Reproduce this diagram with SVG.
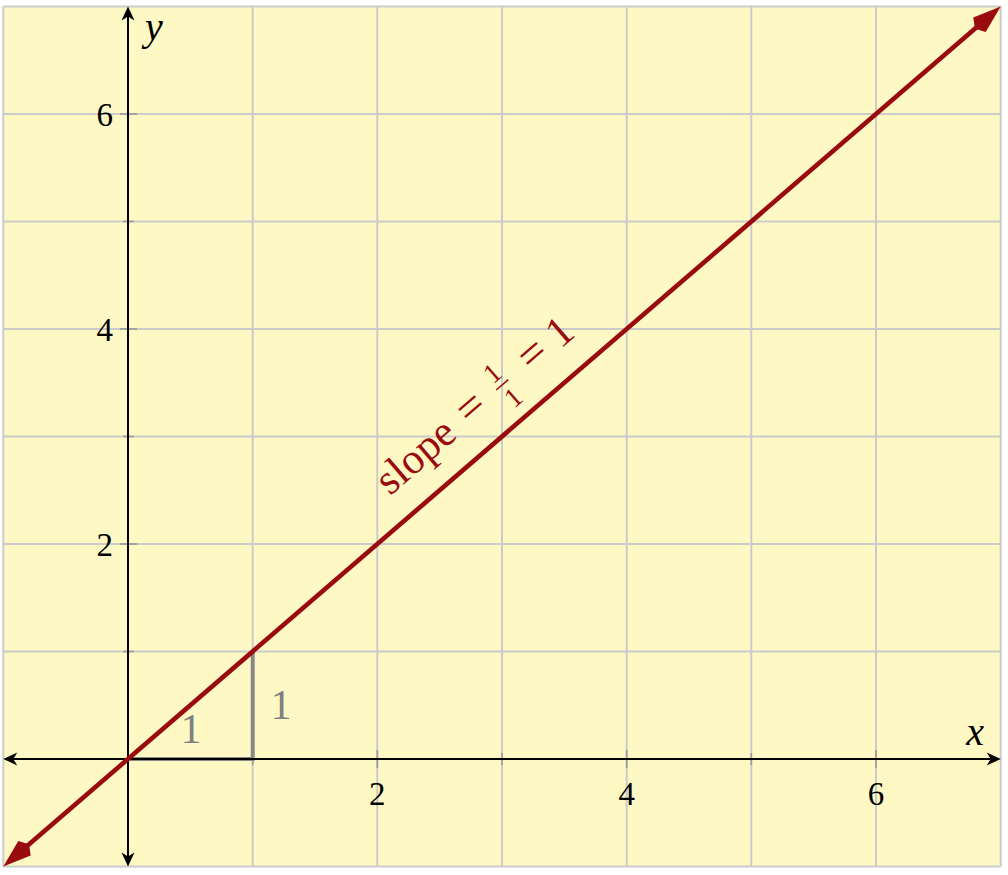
<svg xmlns="http://www.w3.org/2000/svg" width="1008" height="875" viewBox="0 0 1008 875">
<style>
.grid{stroke:#cbcbcb;stroke-width:2;fill:none}
.tick{stroke:#9a9a9a;stroke-width:1.6}
.axis{stroke:#000;stroke-width:2;fill:none}
text{font-family:'Liberation Serif','Times New Roman',Tinos,'Noto Serif','DejaVu Serif',FreeSerif,serif}
.num{font-size:33px;fill:#000}
.ital{font-style:italic;font-size:40px;fill:#000}
.gray{font-size:42px;fill:#808080;text-anchor:middle}
.red{font-size:43px;fill:#9a0b10}
.frac{font-size:28px;fill:#9a0b10;text-anchor:middle}
.eq{font-size:46px;fill:#9a0b10;text-anchor:middle}
</style>
<defs>
<marker id="stealth" markerUnits="userSpaceOnUse" orient="auto-start-reverse" refX="0" refY="0" markerWidth="20" markerHeight="20" viewBox="-10 -10 20 20" overflow="visible">
<path d="M5,0 L-9,-6.5 L-5,0 L-9,6.5 Z" fill="#000"/>
</marker>
<marker id="kite" markerUnits="userSpaceOnUse" orient="auto-start-reverse" refX="0" refY="0" markerWidth="40" markerHeight="40" viewBox="-20 -20 40 40" overflow="visible">
<path d="M28,0 L0,-9.5 L-6,0 L0,9.5 Z" fill="#9a0b10"/>
</marker>
</defs>
<g id="background">
<rect x="3.3" y="6.5" width="997.4" height="860" fill="#fef9c4"/>
</g>
<g id="grid" class="grid">
<line x1="3.3" y1="6.5" x2="3.3" y2="866.5"/>
<line x1="128" y1="6.5" x2="128" y2="866.5"/>
<line x1="252.7" y1="6.5" x2="252.7" y2="866.5"/>
<line x1="377.3" y1="6.5" x2="377.3" y2="866.5"/>
<line x1="502" y1="6.5" x2="502" y2="866.5"/>
<line x1="626.7" y1="6.5" x2="626.7" y2="866.5"/>
<line x1="751.3" y1="6.5" x2="751.3" y2="866.5"/>
<line x1="876" y1="6.5" x2="876" y2="866.5"/>
<line x1="1000.7" y1="6.5" x2="1000.7" y2="866.5"/>
<line x1="3.3" y1="866.5" x2="1000.7" y2="866.5"/>
<line x1="3.3" y1="759" x2="1000.7" y2="759"/>
<line x1="3.3" y1="651.5" x2="1000.7" y2="651.5"/>
<line x1="3.3" y1="544" x2="1000.7" y2="544"/>
<line x1="3.3" y1="436.5" x2="1000.7" y2="436.5"/>
<line x1="3.3" y1="329" x2="1000.7" y2="329"/>
<line x1="3.3" y1="221.5" x2="1000.7" y2="221.5"/>
<line x1="3.3" y1="114" x2="1000.7" y2="114"/>
<line x1="3.3" y1="6.5" x2="1000.7" y2="6.5"/>
</g>
<g id="ticks" class="tick">
<line x1="120" y1="114" x2="137" y2="114"/>
<line x1="123" y1="221.5" x2="134" y2="221.5"/>
<line x1="120" y1="329" x2="137" y2="329"/>
<line x1="123" y1="436.5" x2="134" y2="436.5"/>
<line x1="120" y1="544" x2="137" y2="544"/>
<line x1="123" y1="651.5" x2="134" y2="651.5"/>
<line x1="252.7" y1="753" x2="252.7" y2="765"/>
<line x1="377.3" y1="750" x2="377.3" y2="768"/>
<line x1="502" y1="753" x2="502" y2="765"/>
<line x1="626.7" y1="750" x2="626.7" y2="768"/>
<line x1="751.3" y1="753" x2="751.3" y2="765"/>
<line x1="876" y1="750" x2="876" y2="768"/>
</g>
<g id="triangle">
<polyline points="128,759 252.7,759 252.7,651.5" fill="none" stroke="#888888" stroke-width="4"/>
<text class="gray" x="191" y="743">1</text>
<text class="gray" x="281" y="719">1</text>
</g>
<g id="connectors">
<line id="x-axis" class="axis" x1="8.3" y1="759" x2="995.7" y2="759" marker-start="url(#stealth)" marker-end="url(#stealth)"/>
<line id="y-axis" class="axis" x1="128" y1="861.5" x2="128" y2="11.5" marker-start="url(#stealth)" marker-end="url(#stealth)"/>
<line id="line" x1="24.5" y1="848.2" x2="979.5" y2="24.8" stroke="#9a0b10" stroke-width="4.6" marker-start="url(#kite)" marker-end="url(#kite)"/>
</g>
<g id="axis-labels">
<text class="ital" x="984" y="745" text-anchor="end">x</text>
<text class="ital" x="145" y="40">y</text>
</g>
<g id="tick-labels">
<text class="num" x="377.3" y="805" text-anchor="middle">2</text>
<text class="num" x="626.7" y="805" text-anchor="middle">4</text>
<text class="num" x="876" y="805" text-anchor="middle">6</text>
<text class="num" x="113" y="125.5" text-anchor="end">6</text>
<text class="num" x="113" y="340.5" text-anchor="end">4</text>
<text class="num" x="113" y="555.5" text-anchor="end">2</text>
</g>
<g id="slope-label" transform="translate(502,436.5) rotate(-40.77)">
<text class="red" x="-33" y="-28" text-anchor="end">slope</text>
<text class="eq" x="-4.7" y="-28">=</text>
<text class="frac" x="34" y="-45">1</text>
<line x1="26" y1="-39" x2="42" y2="-39" stroke="#9a0b10" stroke-width="1.6"/>
<text class="frac" x="34" y="-13">1</text>
<text class="eq" x="76.8" y="-28">=</text>
<text class="red" x="112" y="-28" text-anchor="middle">1</text>
</g>
</svg>
